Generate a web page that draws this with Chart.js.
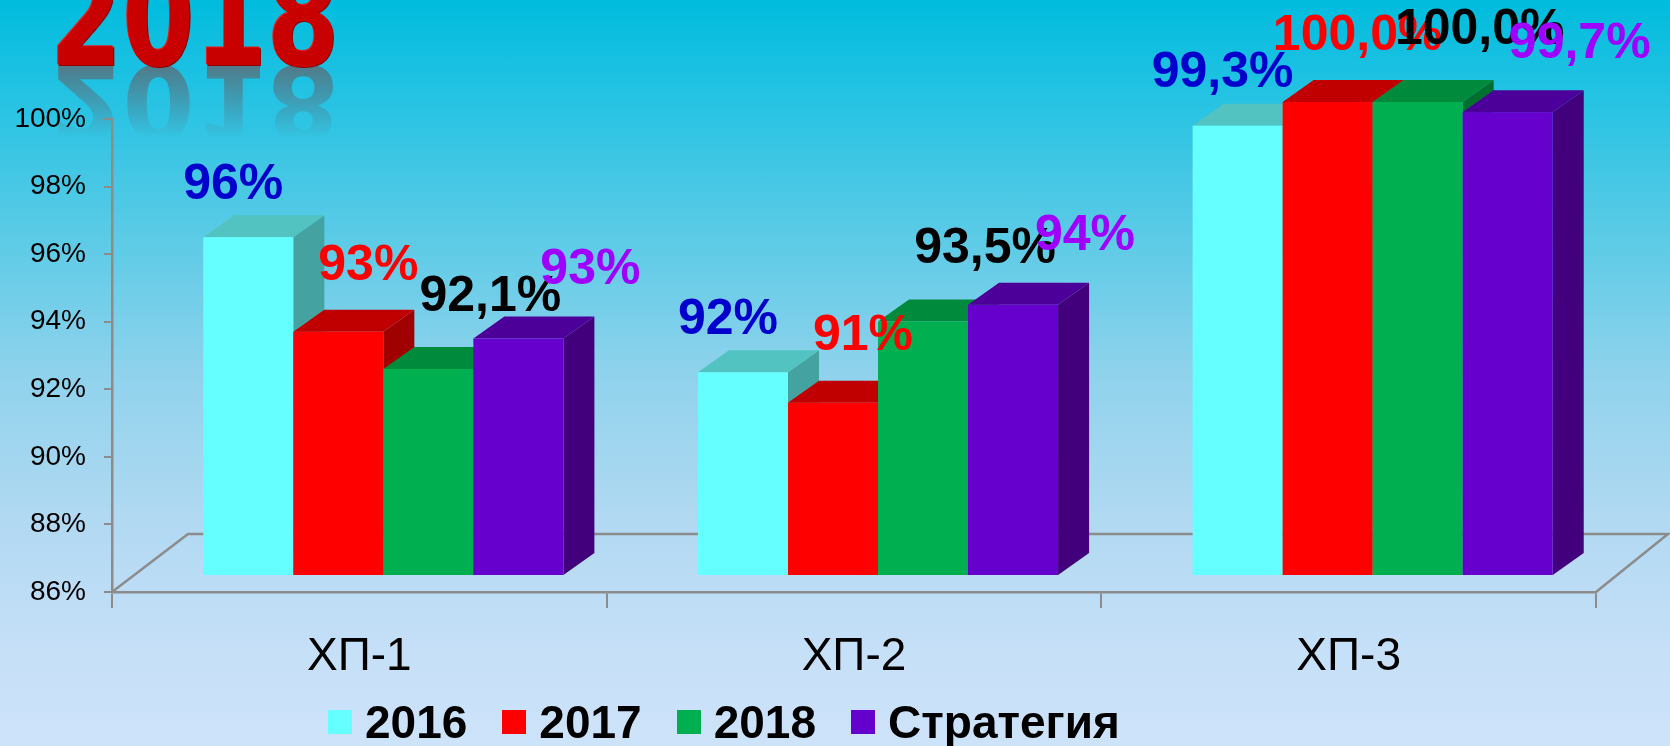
<!DOCTYPE html>
<html>
<head>
<meta charset="utf-8">
<script src="https://cdn.jsdelivr.net/npm/chart.js@4"></script>
<style>
  html, body { margin: 0; padding: 0; }
  body {
    width: 1670px; height: 746px; overflow: hidden; position: relative;
    background: linear-gradient(to bottom, #00bcdd 0%, #22c2e3 12%, #5ccbe6 32%, #8fd2ec 50%, #b2d9f2 70%, #c6e0f8 88%, #cde3fa 100%);
    font-family: "Liberation Sans", Arial, sans-serif;
  }
  #wrap { position: absolute; left: 0; top: 0; width: 1670px; height: 746px; }
  .title, .title-ref {
    position: absolute; left: 50px; top: -23px; margin: 0;
    font-family: "DejaVu Sans", sans-serif; font-weight: bold; font-size: 104px; line-height: 104px;
    white-space: nowrap; transform-origin: 0 88px;
  }
  .title { color: #c80000; text-shadow: 1px 1px 0 #900000, -1px -1px 0 #e02020; transform: scaleY(1.3); }
  .title-ref {
    color: rgba(95, 105, 115, 0.85);
    transform: scaleY(-1.0);
    -webkit-mask-image: linear-gradient(to bottom, transparent 15%, rgba(0,0,0,0.95) 85%);
    mask-image: linear-gradient(to bottom, transparent 15%, rgba(0,0,0,0.95) 85%);
  }
  #legend {
    position: absolute; left: 328px; top: 699px; height: 46px;
    display: flex; align-items: center;
    font-family: "Liberation Sans", Arial, sans-serif; font-weight: bold; font-size: 46px; line-height: 46px; color: #000;
  }
  #legend .item { display: flex; align-items: center; margin-right: 35px; }
  #legend .sw { width: 24px; height: 24px; margin-right: 13px; }
</style>
</head>
<body>
<div class="title-ref" id="titleRef"></div>
<div class="title" id="title"></div>
<div id="wrap"><canvas id="c" width="1670" height="746"></canvas></div>
<div id="legend"></div>
<script>
// ---- data ----
const titleText = '2018';
const categories = ['ХП-1', 'ХП-2', 'ХП-3'];
const seriesNames = ['2016', '2017', '2018', 'Стратегия'];
const values2016 = [96, 92, 99.3];
const values2017 = [93.2, 91.1, 100];
const values2018 = [92.1, 93.5, 100];
const valuesStrategy = [93, 94, 99.7];
const labels2016 = ['96%', '92%', '99,3%'];
const labels2017 = ['93%', '91%', '100,0%'];
const labels2018 = ['92,1%', '93,5%', '100,0%'];
const labelsStrategy = ['93%', '94%', '99,7%'];
const yMin = 86, yMax = 100, yStep = 2;

// ---- styles ----
const frontColors = ['#66ffff', '#ff0000', '#00b050', '#6600cc'];
const topColors   = ['#52c3c0', '#c00000', '#008a3c', '#4d0099'];
const sideColors  = ['#44a3a0', '#a00000', '#00702f', '#43007c'];
const labelColors = ['#0000cc', '#ff0000', '#000000', '#9f00ff'];
const labelOffsets = [[-15, -52], [30, -66], [62, -72], [72, -68]];
const DEPTH_X = 31, DEPTH_Y = -22;      // bar 3D depth
const SHIFT_X = 24, SHIFT_Y = -17;      // bars sit inside the 3D floor
const FLOOR_DX = 76, FLOOR_DY = -58;    // floor depth
const AXIS_GREY = '#8c8c8c';

document.getElementById('title').textContent = titleText;
document.getElementById('titleRef').textContent = titleText;

const allValues = [values2016, values2017, values2018, valuesStrategy];
const allLabels = [labels2016, labels2017, labels2018, labelsStrategy];

// HTML legend
const legend = document.getElementById('legend');
seriesNames.forEach((n, i) => {
  const it = document.createElement('div'); it.className = 'item';
  const sw = document.createElement('div'); sw.className = 'sw'; sw.style.background = frontColors[i];
  const tx = document.createElement('span'); tx.textContent = n;
  it.appendChild(sw); it.appendChild(tx); legend.appendChild(it);
});

const bars3d = {
  id: 'bars3d',
  beforeDatasetsDraw(chart) {
    const ctx = chart.ctx;
    const ys = chart.scales.y, area = chart.chartArea;
    const y0 = ys.getPixelForValue(yMin);
    // floor (back + sides)
    ctx.save();
    ctx.strokeStyle = AXIS_GREY; ctx.lineWidth = 2.5;
    ctx.beginPath();
    ctx.moveTo(area.left, y0);
    ctx.lineTo(area.left + FLOOR_DX, y0 + FLOOR_DY);
    ctx.lineTo(area.right + FLOOR_DX - 4, y0 + FLOOR_DY);
    ctx.lineTo(area.right, y0);
    ctx.stroke();
    ctx.restore();

    // bars
    ctx.save();
    chart.data.datasets.forEach((ds, di) => {
      const meta = chart.getDatasetMeta(di);
      meta.data.forEach((el) => {
        const x0 = el.x - el.width / 2 + SHIFT_X, x1 = x0 + el.width;
        const yt = el.y + SHIFT_Y, yb = y0 + SHIFT_Y;
        // side
        ctx.fillStyle = sideColors[di];
        ctx.beginPath();
        ctx.moveTo(x1, yt); ctx.lineTo(x1 + DEPTH_X, yt + DEPTH_Y);
        ctx.lineTo(x1 + DEPTH_X, yb + DEPTH_Y); ctx.lineTo(x1, yb); ctx.closePath(); ctx.fill();
        // top
        ctx.fillStyle = topColors[di];
        ctx.beginPath();
        ctx.moveTo(x0, yt); ctx.lineTo(x0 + DEPTH_X, yt + DEPTH_Y);
        ctx.lineTo(x1 + DEPTH_X, yt + DEPTH_Y); ctx.lineTo(x1, yt); ctx.closePath(); ctx.fill();
        // front
        ctx.fillStyle = frontColors[di];
        ctx.fillRect(x0, yt, x1 - x0, yb - yt);
      });
    });
    ctx.restore();
  },
  afterDatasetsDraw(chart) {
    const ctx = chart.ctx;
    ctx.save();
    ctx.font = 'bold 50px "Liberation Sans", Arial, sans-serif';
    ctx.textAlign = 'center'; ctx.textBaseline = 'middle';
    chart.data.datasets.forEach((ds, di) => {
      const meta = chart.getDatasetMeta(di);
      meta.data.forEach((el, j) => {
        const cx = el.x + SHIFT_X, yt = el.y + SHIFT_Y;
        ctx.fillStyle = labelColors[di];
        ctx.fillText(allLabels[di][j], cx + labelOffsets[di][0], yt + labelOffsets[di][1]);
      });
    });
    ctx.restore();
  }
};

new Chart(document.getElementById('c'), {
  type: 'bar',
  data: {
    labels: categories,
    datasets: seriesNames.map((n, i) => ({
      label: n, data: allValues[i], backgroundColor: 'rgba(0,0,0,0)', borderWidth: 0,
      categoryPercentage: 0.728, barPercentage: 1
    }))
  },
  options: {
    responsive: false, animation: false,
    layout: { padding: { left: 0, right: 74, top: 119, bottom: 0 } },
    plugins: { legend: { display: false }, tooltip: { enabled: false } },
    scales: {
      y: {
        min: yMin, max: yMax,
        ticks: { stepSize: yStep, callback: v => v + '%', color: '#000', padding: 18,
                 font: { family: '"Liberation Sans", Arial, sans-serif', size: 28 } },
        grid: { drawOnChartArea: false, tickLength: 8, color: AXIS_GREY, lineWidth: 2 },
        border: { display: true, color: AXIS_GREY, width: 2.5 },
        afterFit(s) { s.width = 112; }
      },
      x: {
        ticks: { color: '#000', padding: 22,
                 font: { family: '"Liberation Sans", Arial, sans-serif', size: 46 } },
        grid: { drawOnChartArea: false, offset: true, tickLength: 16, color: AXIS_GREY, lineWidth: 2 },
        border: { display: true, color: AXIS_GREY, width: 2.5 },
        afterFit(s) { s.height = 154; }
      }
    }
  },
  plugins: [bars3d]
});
</script>
</body>
</html>
